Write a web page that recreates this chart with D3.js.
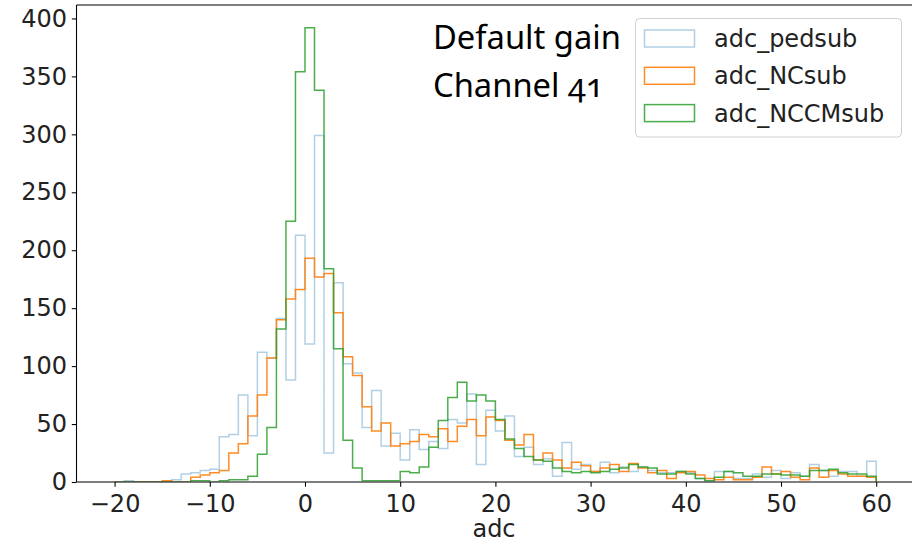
<!DOCTYPE html>
<html><head><meta charset="utf-8">
<script src="https://cdn.jsdelivr.net/npm/d3@7"></script>
<style>
body{margin:0;background:#fff;}
svg{display:block;}
text{font-family:"DejaVu Sans",sans-serif;}
.ann{font-family:"Noto Sans",sans-serif;font-feature-settings:"onum" 1;font-variant-numeric:oldstyle-nums;}
</style></head>
<body><svg id="c" width="912" height="543"></svg>
<script>
// bin left edges (width 1), -20 .. 59
const binEdges = d3.range(-20, 61);
const adc_pedsub = [
 0,1,0,0,0,0,2,7,8,10,
 11,39,41,75,40,112,107,141,88,213,
 119,299,25,172,102,94,47,79,31,42,
 19,45,28,35,29,54,51,76,15,62,
 44,57,22,30,15,20,5,34,11,15,
 9,17,8,13,9,13,10,8,8,9,
 8,3,1,9,9,3,3,7,4,10,
 3,8,5,15,10,5,9,9,5,18];
const adc_NCsub = [
 0,0,0,0,0,1,0,0,4,6,
 8,10,25,33,57,75,107,140,158,166,
 193,177,180,146,108,92,65,44,51,31,
 33,35,41,39,46,35,48,54,40,56,
 53,36,32,41,19,25,19,12,17,14,
 9,12,15,9,16,12,8,10,3,8,
 9,6,3,2,4,2,2,4,13,7,
 9,4,2,12,4,10,7,5,5,4];
const adc_NCCMsub = [
 0,0,0,0,0,0,0,0,1,1,
 0,1,2,2,5,24,47,132,225,354,
 392,338,184,115,36,12,1,1,1,1,
 9,8,13,30,53,73,86,70,75,70,
 54,37,29,22,19,18,12,9,8,9,
 8,9,11,12,15,13,12,7,7,9,
 7,3,1,4,9,8,5,5,7,7,
 6,6,5,10,10,11,8,7,7,5];
const seriesNames = ["adc_pedsub","adc_NCsub","adc_NCCMsub"];
const xTicks = [-20,-10,0,10,20,30,40,50,60];
const yTicks = [0,50,100,150,200,250,300,350,400];
const annotation = ["Default gain","Channel 41"];

const series = [
  {name: seriesNames[0], values: adc_pedsub, color: "rgba(31,119,180,0.35)"},
  {name: seriesNames[1], values: adc_NCsub, color: "rgba(255,127,14,0.9)"},
  {name: seriesNames[2], values: adc_NCCMsub, color: "rgba(44,160,44,0.85)"}
];

const L = 76.5, R = 914.3, T = 5, B = 482;
const x = d3.scaleLinear().domain([-24, 64]).range([L, R]);
const ymax = d3.max(series, s => d3.max(s.values)) * 1.05;
const y = d3.scaleLinear().domain([0, ymax]).range([B, T]);

const svg = d3.select("#c");
svg.append("defs").append("clipPath").attr("id", "plotclip")
  .append("rect").attr("x", L).attr("y", 0).attr("width", R - L).attr("height", B - 0.6);

// histograms (step)
const plot = svg.append("g").attr("clip-path", "url(#plotclip)");
series.forEach(s => {
  const pts = [[binEdges[0], 0]];
  s.values.forEach((v, i) => {
    pts.push([binEdges[i], v]);
    pts.push([binEdges[i + 1], v]);
  });
  pts.push([binEdges[binEdges.length - 1], 0]);
  plot.append("path")
    .attr("d", d3.line().x(d => x(d[0])).y(d => y(d[1]))(pts))
    .attr("fill", "none")
    .attr("stroke", s.color)
    .attr("stroke-width", 1.5)
    .attr("stroke-linejoin", "miter");
});

// axes
const fmt = d => (d < 0 ? "\u2212" + Math.abs(d) : String(d));
const xAxis = svg.append("g").attr("transform", `translate(0,${B})`)
  .call(d3.axisBottom(x).tickValues(xTicks).tickFormat(fmt).tickSize(4.7).tickPadding(4.7));
const yAxis = svg.append("g").attr("transform", `translate(${L},0)`)
  .call(d3.axisLeft(y).tickValues(yTicks).tickSize(4.7).tickPadding(4.7));
[xAxis, yAxis].forEach(g => {
  g.select(".domain").remove();
  g.selectAll("line").attr("stroke", "#000").attr("stroke-width", 1.07);
  g.selectAll("text").attr("font-size", 24).attr("fill", "#222")
    .attr("font-family", "DejaVu Sans");
});
xAxis.selectAll("text").attr("dy", "0.85em");
// spines
svg.append("line").attr("x1", L).attr("x2", L).attr("y1", T).attr("y2", B)
  .attr("stroke", "#000").attr("stroke-width", 1.07);
svg.append("line").attr("x1", L).attr("x2", R).attr("y1", B).attr("y2", B)
  .attr("stroke", "#000").attr("stroke-width", 1.07);
svg.append("line").attr("x1", L).attr("x2", R).attr("y1", T).attr("y2", T)
  .attr("stroke", "#000").attr("stroke-width", 1.07);

svg.append("text").attr("x", 494).attr("y", 537)
  .attr("text-anchor", "middle").attr("font-size", 24).attr("fill", "#222").text("adc");

// annotation text
svg.selectAll("text.ann").data(annotation).join("text").attr("class", "ann")
  .attr("x", 433).attr("y", (d, i) => 49 + i * 48)
  .attr("font-size", 32.7).attr("fill", "#000").text(d => d);

// legend
const lg = svg.append("g");
lg.append("rect").attr("x", 635.5).attr("y", 18.5).attr("width", 266).attr("height", 118.5)
  .attr("rx", 4).attr("fill", "rgba(255,255,255,0.8)").attr("stroke", "#d0d0d0").attr("stroke-width", 1);
series.forEach((s, i) => {
  const cy = 38.5 + i * 37.3;
  lg.append("rect").attr("x", 644.5).attr("y", cy - 8.5).attr("width", 50).attr("height", 17)
    .attr("fill", "none").attr("stroke", s.color).attr("stroke-width", 1.5);
  lg.append("text").attr("x", 714).attr("y", cy).attr("dy", "0.36em")
    .attr("font-size", 24).attr("fill", "#222").text(s.name);
});
</script></body></html>
